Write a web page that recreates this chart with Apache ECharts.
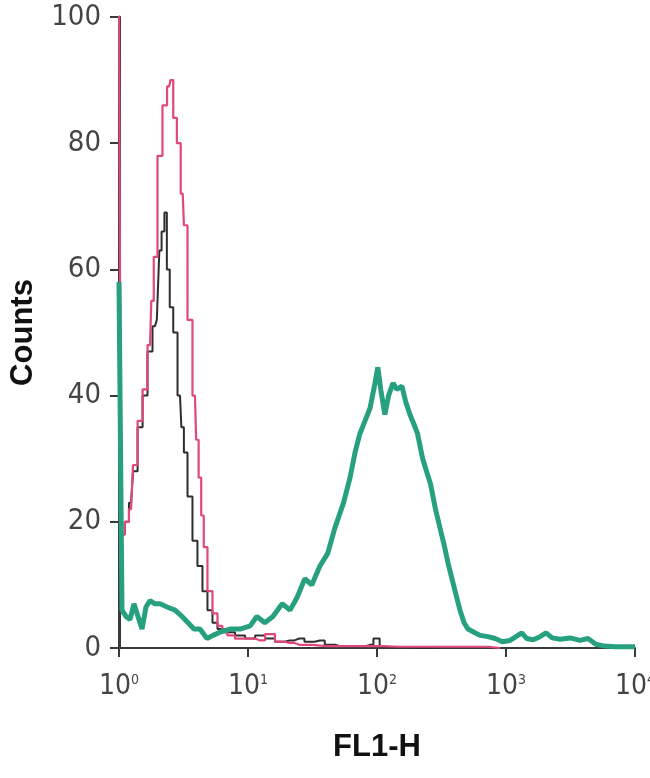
<!DOCTYPE html>
<html>
<head>
<meta charset="utf-8">
<script src="https://cdn.jsdelivr.net/npm/echarts@6/dist/echarts.min.js"></script>
<style>
html,body{margin:0;padding:0;background:#fff;}
#chart{width:650px;height:778px;}
</style>
</head>
<body>
<div id="chart"></div>
<script>
// ---- data ----
const yTicks = [0, 20, 40, 60, 80, 100];
const xTickExps = [0, 1, 2, 3, 4];

const blackX = [1, 1.07, 1.15, 1.24, 1.33, 1.46, 1.59, 1.74, 1.90, 2.03, 2.08, 2.2, 2.3, 2.4, 2.55, 2.72, 2.97, 3.12, 3.25, 3.55, 3.88, 4.24, 4.64, 5.07, 5.55, 6.06, 7.25, 8.67, 10.4, 12.4, 14.8, 17.7, 21, 25, 30, 36, 43, 52, 62, 75, 88, 100, 110, 130, 160, 200, 300];
const blackY = [105, 18, 20, 23, 28, 35, 40, 47, 51, 52, 63, 66, 69, 60, 54, 50, 40, 35, 31, 24, 17, 13, 9, 6, 4, 3, 2.5, 2, 1.5, 2, 1.5, 1.0, 1.2, 1.5, 1.0, 1.2, 0.5, 0.3, 0.2, 0.3, 0.5, 1.5, 0.2, 0.1, 0.1, 0, 0];

const pinkX = [1, 1.07, 1.15, 1.24, 1.33, 1.46, 1.59, 1.74, 1.82, 1.90, 2.08, 2.27, 2.45, 2.55, 2.72, 2.90, 3.12, 3.25, 3.55, 3.88, 4.05, 4.24, 4.44, 4.64, 5.07, 5.55, 6.06, 6.6, 7.25, 8.67, 10.4, 12.4, 14.8, 17.7, 21, 25, 40, 80, 150, 300, 600, 900];
const pinkY = [105, 18, 20, 22, 29, 36, 41, 48, 55, 62, 78, 86, 89, 90, 84, 80, 72, 67, 52, 40, 33, 27, 21, 16, 9, 5.5, 3.5, 2.5, 2, 1.5, 1.5, 1.2, 2.2, 1.0, 0.8, 0.5, 0.3, 0.3, 0.2, 0.2, 0.2, 0];

const tealX = [1, 1.055, 1.133, 1.217, 1.307, 1.404, 1.508, 1.619, 1.739, 1.901, 2.078, 2.36, 2.717, 3.08, 3.43, 3.81, 4.24, 4.81, 5.35, 6.06, 7.25, 8.67, 10.4, 11.7, 13.5, 15.6, 18.4, 21.2, 24.0, 27.6, 31.2, 36.1, 41.5, 47.1, 55.0, 61.8, 67.6, 73.8, 80.7, 88.3, 96.5, 101.5, 106.9, 115, 123, 133, 142, 156, 167, 180, 193, 206, 226, 242, 260, 284, 308, 330, 355, 381, 409, 440, 473, 508, 565, 629, 726, 824, 937, 1075, 1196, 1326, 1450, 1626, 1835, 2045, 2280, 2624, 3140, 3750, 4320, 4970, 5830, 6960, 8320, 10000];
const tealY = [58, 6, 5, 4.5, 7, 5, 3, 6.5, 7.5, 7, 7, 6.5, 6, 5, 4, 3, 3, 1.5, 2, 2.5, 3, 3, 3.5, 5, 4, 5, 7, 6, 8, 11, 10, 13, 15, 19, 23, 27, 31, 34, 36, 38, 42, 44.5, 41, 37, 40, 42, 41, 41.5, 39, 37, 35.5, 34, 30, 28, 26, 22, 19, 16.5, 13.5, 11, 8.5, 6, 4, 3, 2.5, 2, 1.8, 1.5, 1.0, 1.2, 1.8, 2.4, 1.5, 1.3, 1.8, 2.4, 1.6, 1.4, 1.6, 1.2, 1.5, 0.6, 0.3, 0.2, 0.2, 0.2];

function pairs(xs, ys) { return xs.map((x, i) => [x, ys[i]]); }

const chart = echarts.init(document.getElementById('chart'), null, {renderer: 'canvas'});
const labelFont = '"Liberation Sans Narrow", "Arial Narrow", "DejaVu Sans Condensed", "Liberation Sans", Arial, sans-serif';
const axisColor = '#3a3a3a';

chart.setOption({
  backgroundColor: '#ffffff',
  animation: false,
  grid: {left: 119, right: 15, top: 17, bottom: 130, containLabel: false, outerBoundsMode: 'none'},
  xAxis: {
    type: 'log',
    logBase: 10,
    min: Math.pow(10, xTickExps[0]),
    max: Math.pow(10, xTickExps[xTickExps.length - 1]),
    name: 'FL1-H',
    nameLocation: 'middle',
    nameGap: 84,
    nameTextStyle: {fontFamily: 'Liberation Sans, Arial, sans-serif', fontWeight: 'bold', fontSize: 31, color: '#111'},
    axisLine: {show: true, lineStyle: {color: axisColor, width: 2}},
    axisTick: {show: true, inside: false, length: 9, lineStyle: {color: axisColor, width: 2}},
    minorTick: {show: false},
    splitLine: {show: false},
    axisLabel: {
      margin: 25,
      formatter: function (v) {
        const e = Math.round(Math.log10(v));
        return '{b|10}{s|' + e + '}';
      },
      rich: {
        b: {fontFamily: labelFont, fontSize: 28, color: '#444', verticalAlign: 'bottom'},
        s: {fontFamily: labelFont, fontSize: 14, color: '#444', verticalAlign: 'top', padding: [0, 0, 14, 0]}
      }
    }
  },
  yAxis: {
    type: 'value',
    min: yTicks[0],
    max: yTicks[yTicks.length - 1],
    interval: yTicks[1] - yTicks[0],
    name: 'Counts',
    nameLocation: 'middle',
    nameGap: 80,
    nameRotate: 90,
    nameTextStyle: {fontFamily: 'Liberation Sans, Arial, sans-serif', fontWeight: 'bold', fontSize: 31, color: '#111'},
    axisLine: {show: true, lineStyle: {color: axisColor, width: 3}},
    axisTick: {show: true, inside: false, length: 9, lineStyle: {color: axisColor, width: 2}},
    splitLine: {show: false},
    axisLabel: {margin: 18, fontFamily: labelFont, fontSize: 29, color: '#444'}
  },
  series: [
    {type: 'line', data: pairs(blackX, blackY), step: 'middle', showSymbol: false, clip: true,
     lineStyle: {color: '#2e2e2e', width: 2}, z: 2},
    {type: 'line', data: pairs(pinkX, pinkY), step: 'middle', showSymbol: false, clip: true,
     lineStyle: {color: '#e0487c', width: 2.2}, z: 3},
    {type: 'line', data: pairs(tealX, tealY), showSymbol: false, clip: true,
     lineStyle: {color: '#26a07e', width: 5}, z: 4}
  ]
});
</script>
</body>
</html>
